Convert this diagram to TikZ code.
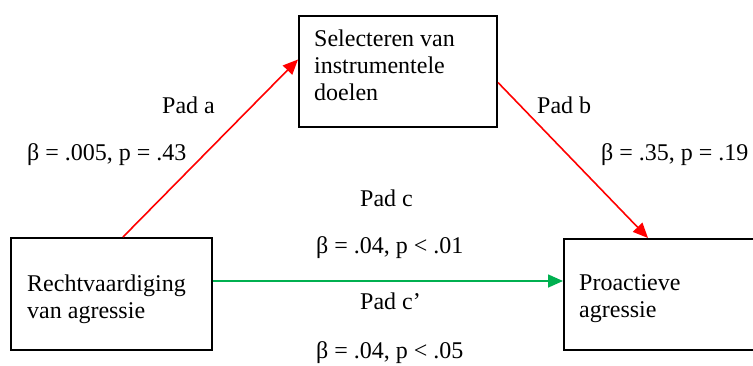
\documentclass[tikz,border=0pt]{standalone}
\usepackage{fontspec}
\setmainfont{Liberation Serif}
\usetikzlibrary{arrows.meta}
\definecolor{pathred}{RGB}{255,0,0}
\definecolor{pathgreen}{RGB}{0,176,80}
\tikzset{
  varbox/.style={draw=black, line width=2pt, inner sep=0pt, anchor=north west},
  boxtext/.style={inner sep=0pt, anchor=base west, align=left},
  label/.style={inner sep=0pt, anchor=base west},
  patharrow/.style={line width=1.6pt, -{Triangle[length=15pt,width=13pt]}},
}
\begin{document}
\begin{tikzpicture}[x=1pt, y=-1pt, font=\fontsize{24}{27}\selectfont]
  \useasboundingbox (0,0) rectangle (753,365);

  % variables
  \node[varbox, minimum width=201pt, minimum height=112pt] (L) at (10,237) {};
  \node[varbox, minimum width=198pt, minimum height=111pt] (T) at (298,15) {};
  \node[varbox, minimum width=210pt, minimum height=111pt] (R) at (563,238) {};

  % box texts, anchored at the baseline of their last line
  \node[boxtext] (Ltxt) at (27,318) {Rechtvaardiging\\van agressie};
  \node[boxtext] (Ttxt) at (314,100) {Selecteren van\\instrumentele\\doelen};
  \node[boxtext] (Rtxt) at (579,317) {Proactieve\\agressie};

  % paths
  \draw[patharrow, pathred] ([xshift=11.5pt]L.north) -- ([yshift=12pt]T.west);
  \draw[patharrow, pathred] ([yshift=-11pt]T.east) -- ([xshift=85pt]R.north west);
  \draw[patharrow, pathgreen] ([yshift=13pt]L.east) -- ([yshift=13pt]L.east -| R.west);

  % coefficients
  \node[label] (pa) at (162,113) {Pad a};
  \node[label] (ba) at (27,160) {β = .005, p = .43};
  \node[label] (pb) at (537,113) {Pad b};
  \node[label] (bb) at (601,160) {β = .35, p = .19};
  \node[label] (pc) at (360,206) {Pad c};
  \node[label] (bc) at (316,253) {β = .04, p < .01};
  \node[label] (pcp) at (360,309) {Pad c’};
  \node[label] (bcp) at (316,358) {β = .04, p < .05};
\end{tikzpicture}
\end{document}
